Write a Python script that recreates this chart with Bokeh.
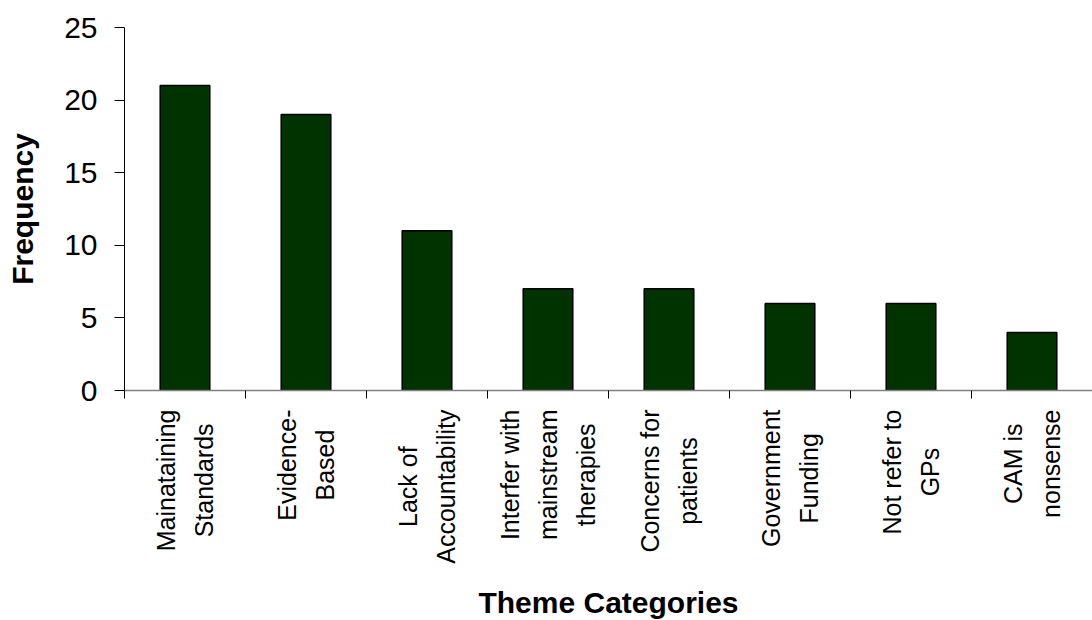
import math
from bokeh.plotting import figure
from bokeh.layouts import column
from bokeh.models import Range1d, FixedTicker, ColumnDataSource, Label
from bokeh.embed import file_html
from bokeh.resources import INLINE

# Theme categories and how often each came up
categories = [
    "Mainataining\nStandards",
    "Evidence-\nBased",
    "Lack of\nAccountability",
    "Interfer with\nmainstream\ntherapies",
    "Concerns for\npatients",
    "Government\nFunding",
    "Not refer to\nGPs",
    "CAM is\nnonsense",
]
frequency = [21, 19, 11, 7, 7, 6, 6, 4]
y_ticks = [0, 5, 10, 15, 20, 25]

n = len(categories)
centers = [i + 0.5 for i in range(n)]
boundaries = list(range(n + 1))
source = ColumnDataSource(dict(x=centers, top=frequency))

FONT = "Liberation Sans"
x_range = Range1d(0, n)

# ---- bar chart -------------------------------------------------------------
p = figure(
    frame_width=968, frame_height=363,
    x_range=x_range, y_range=Range1d(0, 25),
    output_backend="svg", toolbar_location=None,
    min_border_left=124, min_border_right=0,
    min_border_top=27, min_border_bottom=19,
)
p.outline_line_color = None
p.grid.grid_line_color = None
p.background_fill_color = "white"
p.border_fill_color = "white"

p.vbar(x="x", top="top", width=0.41, bottom=0, source=source,
       fill_color="#003300", line_color="black", line_width=1.5)

# Category axis: grey base line, short ticks on the category boundaries
xa = p.xaxis[0]
xa.ticker = FixedTicker(ticks=centers, minor_ticks=boundaries)
xa.major_label_overrides = {c: "" for c in centers}
xa.major_tick_line_color = None
xa.major_tick_out = 0
xa.minor_tick_in = 0
xa.minor_tick_out = 8
xa.minor_tick_line_color = "black"
xa.axis_line_color = "#808080"
xa.axis_line_width = 1.5

ya = p.yaxis[0]
ya.ticker = FixedTicker(ticks=y_ticks)
ya.minor_tick_line_color = None
ya.major_tick_in = 0
ya.major_tick_out = 10
ya.major_tick_line_color = "black"
ya.axis_line_color = "black"
ya.major_label_text_font = FONT
ya.major_label_text_font_size = "30px"
ya.major_label_text_color = "black"
ya.major_label_standoff = 17
ya.axis_label = "Frequency"
ya.axis_label_text_font = FONT
ya.axis_label_text_font_style = "bold"
ya.axis_label_text_font_size = "30px"
ya.axis_label_text_color = "black"
ya.axis_label_standoff = 22

# ---- category names, rotated and centre-aligned under each bar ----------------
names = figure(
    frame_width=968, frame_height=170,
    x_range=x_range, y_range=Range1d(0, 1),
    output_backend="svg", toolbar_location=None, y_axis_location=None,
    min_border_left=124, min_border_right=0,
    min_border_top=0, min_border_bottom=41,
)
names.outline_line_color = None
names.grid.grid_line_color = None
names.background_fill_color = "white"
names.border_fill_color = "white"

for c, name in zip(centers, categories):
    names.add_layout(Label(
        x=c, y=1, text=name, angle=math.pi / 2,
        anchor="center_right", text_align="center", text_baseline="middle",
        text_font=FONT, text_font_size="25px", text_color="black",
        text_line_height=1.36,
    ))

na = names.xaxis[0]
na.ticker = FixedTicker(ticks=[])
na.axis_line_color = None
na.major_tick_line_color = None
na.minor_tick_line_color = None
na.major_tick_out = 0
na.minor_tick_out = 0
na.major_label_standoff = 0
na.axis_label = "Theme Categories"
na.axis_label_text_font = FONT
na.axis_label_text_font_style = "bold"
na.axis_label_text_font_size = "30px"
na.axis_label_text_color = "black"
na.axis_label_standoff = 6

layout = column(p, names, spacing=0)
open("out.html", "w").write(file_html(layout, INLINE))
